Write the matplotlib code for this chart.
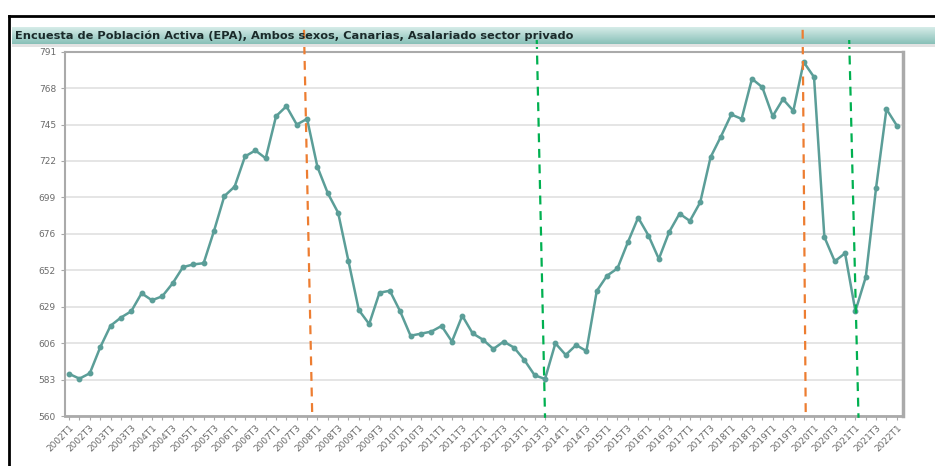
import numpy as np
import matplotlib
matplotlib.use("Agg")
import matplotlib.pyplot as plt
import matplotlib.transforms as mtransforms
from matplotlib.patches import Rectangle

# Asalariado sector privado, Canarias (miles), quarterly 2002T1..2022T1
years = list(range(2002, 2023))
quarters = [f"{y}T{q}" for y in years for q in range(1, 5)][:81]
values = [
    586.7, 583.7, 587.1, 603.5, 617.2, 622.4, 626.4, 637.8, 633.4, 635.9,
    644.1, 654.4, 656.1, 656.9, 677.3, 699.4, 705.5, 724.6, 728.4, 723.4,
    750.1, 756.4, 744.8, 748.4, 717.9, 701.3, 688.9, 658.2, 627.2, 618.3,
    638.2, 639.4, 626.3, 610.9, 612.2, 613.5, 617.1, 607.2, 623.6, 612.4,
    608.4, 602.5, 607.2, 603.4, 595.5, 585.8, 583.5, 606.1, 598.7, 605.0,
    601.2, 639.3, 649.0, 653.6, 670.1, 685.8, 674.4, 659.6, 676.7, 688.3,
    683.7, 695.5, 724.1, 737.2, 751.2, 748.4, 773.8, 768.5, 750.1, 760.9,
    753.5, 784.4, 774.9, 673.5, 658.1, 663.2, 626.5, 648.1, 704.8, 754.6,
    744.2,
]
ytick_vals = np.linspace(560, 791, 11)
ytick_labels = [str(int(round(v))) for v in ytick_vals]

# hand-drawn dashed markers: (quarter position at top, at bottom, colour, top in axes units)
markers = [
    (22.7, 23.5, "#ED7D31", 1.06),
    (45.2, 46.0, "#00B050", 1.032),
    (70.9, 71.2, "#ED7D31", 1.06),
    (75.4, 76.3, "#00B050", 1.032),
]

title = "Encuesta de Población Activa (EPA), Ambos sexos, Canarias, Asalariado sector privado"

fig = plt.figure(figsize=(9.35, 4.66), dpi=100)
fig.patch.set_facecolor("white")

# outer black frame (left and top edges)
fig.add_artist(plt.Line2D([8.5 / 935, 8.5 / 935], [0, 1 - 16 / 466], color="black", lw=2,
                          transform=fig.transFigure))
fig.add_artist(plt.Line2D([8.5 / 935, 1.0], [1 - 16 / 466, 1 - 16 / 466], color="black", lw=2,
                          transform=fig.transFigure))

# title bar with a vertical gradient
bar = fig.add_axes([12 / 935, 1 - 44 / 466, 1 - 12 / 935, 17 / 466])
grad = np.linspace(0, 1, 50).reshape(-1, 1)
cmap = matplotlib.colors.LinearSegmentedColormap.from_list("bar", ["#d6ece8", "#88c0b8"])
bar.imshow(grad, aspect="auto", cmap=cmap, extent=[0, 1, 0, 1], origin="upper")
bar.set_axis_off()
fig.text(15 / 935, 1 - 35.5 / 466, title, fontsize=8.2, fontweight="bold", color="#1a2a2a",
         va="center", ha="left")
fig.add_artist(Rectangle((12 / 935, 1 - 47 / 466), 1, 2.5 / 466, transform=fig.transFigure,
                         color="#e2e2e2", lw=0))

ax = fig.add_axes([65 / 935, 1 - 416 / 466, 838 / 935, 364.3 / 466])
x = np.arange(len(values))
ax.plot(x, values, color="#5b9e98", lw=1.8, marker="o", ms=3.2, zorder=3)

ax.set_xlim(-0.4, 80.6)
ax.set_ylim(560, 791)
ax.set_yticks(ytick_vals)
ax.set_yticklabels(ytick_labels)
ax.set_xticks(x)
ax.set_xticklabels([q if i % 2 == 0 else "" for i, q in enumerate(quarters)],
                   rotation=45, ha="right", rotation_mode="anchor")
ax.tick_params(axis="both", colors="#a8a8a8", labelcolor="#6a6a6a", labelsize=6.5,
               length=3, width=0.8)
ax.tick_params(axis="x", pad=2)
ax.grid(axis="y", color="#e0e0e0", lw=1.2)
ax.set_axisbelow(True)
for s in ax.spines.values():
    s.set_color("#aaaaaa")
    s.set_linewidth(1.5)
ax.spines["right"].set_linewidth(2.5)
ax.spines["bottom"].set_linewidth(2)

trans = mtransforms.blended_transform_factory(ax.transData, ax.transAxes)
for x_top, x_bot, col, top in markers:
    ax.plot([x_top, x_bot], [top, -0.005], color=col, lw=1.6, ls=(0, (4, 3)),
            transform=trans, clip_on=False, zorder=4)

fig.savefig("out.png", dpi=100)
